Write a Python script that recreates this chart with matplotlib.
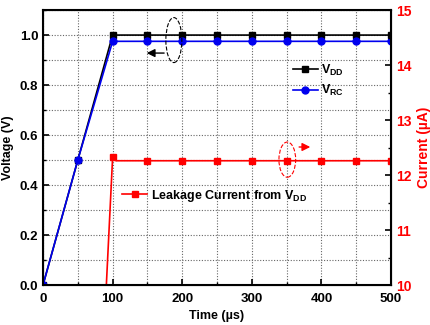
import numpy as np
import matplotlib.pyplot as plt
from matplotlib.patches import Ellipse
from matplotlib.ticker import MultipleLocator

plt.rcParams['font.family'] = ['Liberation Sans', 'DejaVu Sans']
plt.rcParams['font.weight'] = 'bold'

# data
time_v = [0, 50, 100, 150, 200, 250, 300, 350, 400, 450, 500]
vdd = [0.0, 0.5, 1.0, 1.0, 1.0, 1.0, 1.0, 1.0, 1.0, 1.0, 1.0]
vrc = [0.0, 0.5, 0.975, 0.975, 0.975, 0.975, 0.975, 0.975, 0.975, 0.975, 0.975]

time_i = [91, 100, 105, 150, 200, 250, 300, 350, 400, 450, 500]
leak = [10.0, 12.32, 12.26, 12.26, 12.26, 12.26, 12.26, 12.26, 12.26, 12.26, 12.26]
leak_marks = [1, 3, 4, 5, 6, 7, 8, 9, 10]

fig = plt.figure(figsize=(4.31, 3.25), dpi=100)
ax = fig.add_axes([0.0998, 0.123, 0.8074, 0.846])
ax2 = ax.twinx()

ax.plot(time_v, vdd, '-s', color='black', lw=1.2, ms=4.5, label='V$_{\\mathregular{DD}}$', zorder=3)
ax.plot(time_v, vrc, '-o', color='#0000ee', lw=1.2, ms=5, label='V$_{\\mathregular{RC}}$', zorder=4)
ax2.plot(time_i, leak, '-s', color='red', lw=1.2, ms=4.5, markevery=leak_marks,
         label='Leakage Current from V$_{\\mathregular{DD}}$')

ax.set_xlim(0, 500)
ax.set_ylim(0, 1.1)
ax2.set_ylim(10, 15)

ax.xaxis.set_major_locator(MultipleLocator(100))
ax.xaxis.set_minor_locator(MultipleLocator(50))
ax.yaxis.set_minor_locator(MultipleLocator(0.1))
ax2.yaxis.set_major_locator(MultipleLocator(1))
ax2.yaxis.set_minor_locator(MultipleLocator(0.5))
ax.set_yticks([0, 0.2, 0.4, 0.6, 0.8, 1.0])
ax.set_yticklabels(['0.0', '0.2', '0.4', '0.6', '0.8', '1.0'])

ax.grid(which='both', color='#666666', linestyle=(0, (1, 1.5)), linewidth=0.8)
ax.set_axisbelow(True)

ax.tick_params(which='both', direction='in', labelsize=9.5)
ax.tick_params(axis='x', pad=6)
ax.tick_params(which='major', length=4, width=1.2)
ax.tick_params(which='minor', length=2.5, width=1.0)
ax2.tick_params(which='both', direction='in', labelsize=10, colors='red', labelcolor='red')
ax2.tick_params(which='major', length=4, width=1.2, color='black')
ax2.tick_params(which='minor', length=2.5, width=1.0, color='black')

for sp in ax2.spines.values():
    sp.set_linewidth(1.5)
ax.set_xlabel('Time (\u00b5s)', fontsize=9, fontweight='bold', labelpad=3)
ax.set_ylabel('Voltage (V)', fontsize=9, fontweight='bold')
ax2.set_ylabel('Current (\u00b5A)', fontsize=10, fontweight='bold', color='red')

# legends
ax.legend(loc='upper left', bbox_to_anchor=(0.685, 0.85), frameon=False,
          fontsize=9, handlelength=2.0, handletextpad=0.3, labelspacing=0.45)
ax2.legend(loc='upper left', bbox_to_anchor=(0.195, 0.395), frameon=False,
           fontsize=9, handlelength=2.0, handletextpad=0.3)

# ellipses and arrows
ax.add_patch(Ellipse((188, 0.98), 23, 0.18, fill=False, ls='--', lw=0.8, color='black', zorder=5))
ax.annotate('', xy=(145, 0.928), xytext=(178, 0.928),
            arrowprops=dict(arrowstyle='-|>', color='black', lw=1.0, mutation_scale=12), zorder=5)
ax2.add_patch(Ellipse((351, 12.28), 24, 0.64, fill=False, ls='--', lw=0.8, color='red', zorder=5))
ax2.annotate('', xy=(388, 12.51), xytext=(364, 12.51),
             arrowprops=dict(arrowstyle='-|>', color='red', lw=1.0, mutation_scale=12))

fig.savefig('out.png', dpi=100)
